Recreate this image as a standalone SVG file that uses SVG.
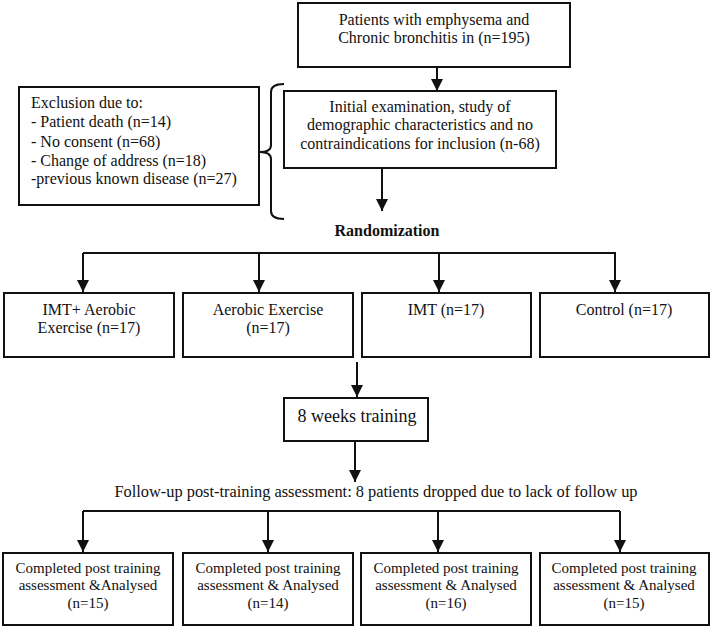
<svg xmlns="http://www.w3.org/2000/svg" width="713" height="629" viewBox="0 0 713 629">
<style>
.box{fill:#fff;stroke:#111;stroke-width:2}
.t{font-family:'Liberation Serif',Tinos,'Times New Roman',Times,'DejaVu Serif',serif;font-size:16px;fill:#111;text-anchor:middle}
.l{text-anchor:start}
.s{font-size:15px}
.b{font-weight:bold}
.c{fill:none;stroke:#111;stroke-width:2}
</style>
<defs>
<marker id="ah" markerUnits="userSpaceOnUse" markerWidth="12" markerHeight="12" viewBox="0 0 12 12" refX="12" refY="6" orient="auto">
<path d="M0,0 L12,6 L0,12 Z" fill="#111"/>
</marker>
</defs>
<rect width="713" height="629" fill="#fff"/>
<g id="connectors">
<line class="c" x1="437" y1="67" x2="437" y2="91" marker-end="url(#ah)"/>
<line class="c" x1="382" y1="168" x2="382" y2="211" marker-end="url(#ah)"/>
<path class="c" d="M284,84 Q271,84 271,92 L271,145 Q271,152 260,152 Q271,152 271,159 L271,211 Q271,219 284,219"/>
<polyline class="c" points="83,253 615,253 615,292" marker-end="url(#ah)"/>
<line class="c" x1="83" y1="253" x2="83" y2="292" marker-end="url(#ah)"/>
<line class="c" x1="259" y1="253" x2="259" y2="292" marker-end="url(#ah)"/>
<line class="c" x1="439" y1="253" x2="439" y2="292" marker-end="url(#ah)"/>
<line class="c" x1="357" y1="362" x2="357" y2="397" marker-end="url(#ah)"/>
<line class="c" x1="355" y1="441" x2="355" y2="482" marker-end="url(#ah)"/>
<polyline class="c" points="83,511 620,511"/>
<line class="c" x1="83" y1="511" x2="83" y2="552" marker-end="url(#ah)"/>
<line class="c" x1="268" y1="511" x2="268" y2="552" marker-end="url(#ah)"/>
<line class="c" x1="438" y1="511" x2="438" y2="552" marker-end="url(#ah)"/>
<line class="c" x1="620" y1="511" x2="620" y2="552" marker-end="url(#ah)"/>
</g>
<g id="patients">
<rect class="box" x="298" y="3" width="272" height="64"/>
<text class="t" x="434" y="25">Patients with emphysema and</text>
<text class="t" x="434" y="43">Chronic bronchitis in (n=195)</text>
</g>
<g id="initial">
<rect class="box" x="284" y="91" width="272" height="77"/>
<text class="t" x="420" y="112">Initial examination, study of</text>
<text class="t" x="420" y="130">demographic characteristics and no</text>
<text class="t" x="420" y="149">contraindications for inclusion (n-68)</text>
</g>
<g id="exclusion">
<rect class="box" x="19" y="87" width="240" height="118"/>
<text class="t l" x="31" y="108">Exclusion due to:</text>
<text class="t l" x="31" y="127">- Patient death (n=14)</text>
<text class="t l" x="31" y="147">- No consent (n=68)</text>
<text class="t l" x="31" y="166">- Change of address (n=18)</text>
<text class="t l" x="31" y="184">-previous known disease (n=27)</text>
</g>
<g id="randomization">
<text class="t b" x="387" y="236">Randomization</text>
</g>
<g id="g1">
<rect class="box" x="4" y="293" width="170" height="64"/>
<text class="t" x="89" y="315">IMT+ Aerobic</text>
<text class="t" x="89" y="333">Exercise (n=17)</text>
</g>
<g id="g2">
<rect class="box" x="183" y="293" width="170" height="64"/>
<text class="t" x="268" y="315">Aerobic Exercise</text>
<text class="t" x="268" y="333">(n=17)</text>
</g>
<g id="g3">
<rect class="box" x="362" y="293" width="169" height="64"/>
<text class="t" x="446" y="315">IMT (n=17)</text>
</g>
<g id="g4">
<rect class="box" x="540" y="293" width="169" height="64"/>
<text class="t" x="624" y="315">Control (n=17)</text>
</g>
<g id="training">
<rect class="box" x="284" y="398" width="144" height="43"/>
<text class="t" x="357" y="422" style="font-size:18px">8 weeks training</text>
</g>
<g id="followup">
<text class="t" x="376" y="497" textLength="523" lengthAdjust="spacingAndGlyphs">Follow-up post-training assessment: 8 patients dropped due to lack of follow up</text>
</g>
<g id="r1">
<rect class="box" x="3" y="553" width="170" height="72"/>
<text class="t s" x="88" y="573">Completed post training</text>
<text class="t s" x="88" y="590">assessment &amp;Analysed</text>
<text class="t s" x="88" y="608">(n=15)</text>
</g>
<g id="r2">
<rect class="box" x="183" y="553" width="170" height="72"/>
<text class="t s" x="268" y="573">Completed post training</text>
<text class="t s" x="268" y="590">assessment &amp; Analysed</text>
<text class="t s" x="268" y="608">(n=14)</text>
</g>
<g id="r3">
<rect class="box" x="361" y="553" width="170" height="72"/>
<text class="t s" x="446" y="573">Completed post training</text>
<text class="t s" x="446" y="590">assessment &amp; Analysed</text>
<text class="t s" x="446" y="608">(n=16)</text>
</g>
<g id="r4">
<rect class="box" x="540" y="553" width="169" height="72"/>
<text class="t s" x="624" y="573">Completed post training</text>
<text class="t s" x="624" y="590">assessment &amp; Analysed</text>
<text class="t s" x="624" y="608">(n=15)</text>
</g>
</svg>
